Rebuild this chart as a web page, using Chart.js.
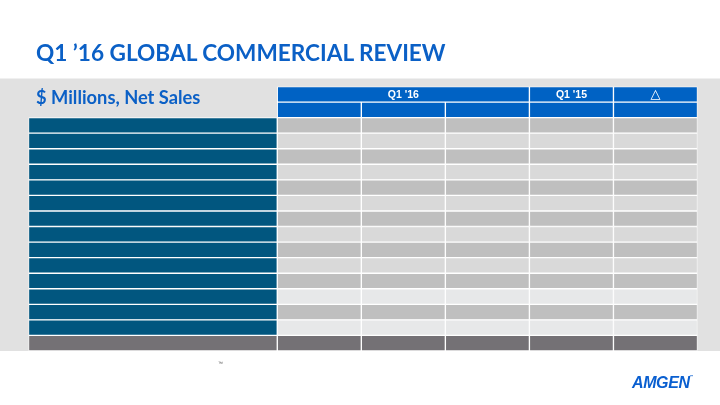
<!DOCTYPE html>
<html>
<head>
<meta charset="utf-8">
<script src="https://cdn.jsdelivr.net/npm/chart.js@4.4.1/dist/chart.umd.min.js"></script>
<style>
  html, body { margin: 0; padding: 0; background: #fff; }
  #wrap { position: relative; width: 720px; height: 405px; overflow: hidden; }
  #table { position: absolute; left: 0; top: 0; }
  .txt { position: absolute; white-space: nowrap; line-height: 1; }
  #title { left: 36px; top: 39px; font: bold 22.6px Lato, "Open Sans", sans-serif; color: #0b60c6; }
  #subtitle { left: 36px; top: 85.5px; font: bold 18.3px Lato, "Open Sans", sans-serif; color: #0b60c6; }
  #tm { left: 218px; top: 360px; font: 5px "Liberation Sans", sans-serif; color: #555; }
  #logo { left: 632px; top: 374px; font: italic bold 16px "Liberation Sans", Arial, sans-serif; color: #0a5fd0; letter-spacing: -0.4px; }
  #logo sup { font-size: 4px; font-style: normal; vertical-align: 10px; letter-spacing: 0; }
</style>
</head>
<body>
<div id="wrap">
  <canvas id="table" width="720" height="405"></canvas>
  <div class="txt" id="title">Q1 ’16 GLOBAL COMMERCIAL REVIEW</div>
  <div class="txt" id="subtitle">$ Millions, Net Sales</div>
  <div class="txt" id="tm">™</div>
  <div class="txt" id="logo">AMGEN<sup>™</sup></div>
</div>
<script>
// rows of the table, top to bottom: two header rows, 14 line items, total
const rowKeys = ['head1', 'head2',
    'r1', 'r2', 'r3', 'r4', 'r5', 'r6', 'r7', 'r8', 'r9', 'r10', 'r11', 'r12', 'r13', 'r14',
    'total'];
// shading of the body rows: 'dark', 'light', 'pale'
const rowShade = ['dark', 'light', 'dark', 'light', 'dark', 'light', 'dark', 'light',
    'dark', 'light', 'dark', 'pale', 'dark', 'pale'];
// top header groups: label and the data columns they span
const headerLabels = ['Q1 \'16', 'Q1 \'15', '\u25B3'];
const headerSpans = [[0, 3], [3, 4], [4, 5]];
// data columns (sub headers are blank in the picture)
const dataColumns = ['', '', '', '', ''];
const labelColumnWidth = 2.96;   // width of the item column, in data-column units

const colors = {
    band: '#e1e1e1',
    header: '#0062c4',
    item: '#01567f',
    total: '#747175',
    dark: '#bfbfbf',
    light: '#d9d9d9',
    pale: '#e7e8e9'
};

function bodyColor(rowIdx) {
    const key = rowKeys[rowIdx];
    if (key === 'head2') return colors.header;
    if (key === 'total') return colors.total;
    return colors[rowShade[rowIdx - 2]];
}

const cellStyle = {
    grouped: false,
    barPercentage: 1,
    categoryPercentage: 1,
    borderWidth: 1,
    borderColor: '#ffffff',
    borderSkipped: false
};

const datasets = [];

// item label column
datasets.push({
    ...cellStyle,
    label: 'items',
    data: rowKeys.map(k => k.startsWith('head') ? null : [-labelColumnWidth, 0]),
    backgroundColor: rowKeys.map(k => k === 'total' ? colors.total : colors.item)
});

// data columns
dataColumns.forEach((name, c) => {
    datasets.push({
        ...cellStyle,
        label: 'col' + c,
        data: rowKeys.map(k => k === 'head1' ? null : [c, c + 1]),
        backgroundColor: rowKeys.map((k, i) => bodyColor(i))
    });
});

// merged top header cells
headerSpans.forEach((span, h) => {
    datasets.push({
        ...cellStyle,
        label: 'header' + h,
        headerText: headerLabels[h],
        data: rowKeys.map(k => k === 'head1' ? span : null),
        backgroundColor: colors.header
    });
});

// grey band behind the table
const bandPlugin = {
    id: 'band',
    beforeDraw(chart) {
        const { ctx, chartArea } = chart;
        ctx.save();
        ctx.fillStyle = '#ffffff';
        ctx.fillRect(0, 0, chart.width, chart.height);
        ctx.fillStyle = colors.band;
        ctx.fillRect(0, chartArea.top - 8, chart.width, chartArea.bottom - chartArea.top + 8);
        ctx.restore();
    }
};

// header texts centred in their cells
const headerTextPlugin = {
    id: 'headerText',
    afterDatasetsDraw(chart) {
        const { ctx } = chart;
        ctx.save();
        ctx.fillStyle = '#ffffff';
        ctx.textAlign = 'center';
        ctx.textBaseline = 'middle';
        chart.data.datasets.forEach((ds, i) => {
            if (!ds.headerText) return;
            const bar = chart.getDatasetMeta(i).data[0];
            const isTriangle = ds.headerText === '\u25B3';
            ctx.font = isTriangle ? '13px "DejaVu Sans", sans-serif' : 'bold 10.5px "Liberation Sans", Arial, sans-serif';
            ctx.fillText(ds.headerText, (bar.x + bar.base) / 2, bar.y + 0.5);
        });
        ctx.restore();
    }
};

new Chart(document.getElementById('table'), {
    type: 'bar',
    data: { labels: rowKeys, datasets: datasets },
    options: {
        indexAxis: 'y',
        responsive: false,
        animation: false,
        events: [],
        layout: { padding: { left: 28.5, right: 22.5, top: 86.5, bottom: 54 } },
        scales: {
            x: { type: 'linear', min: -labelColumnWidth, max: dataColumns.length, display: false },
            y: { type: 'category', display: false }
        },
        plugins: {
            legend: { display: false },
            tooltip: { enabled: false },
            title: { display: false }
        }
    },
    plugins: [bandPlugin, headerTextPlugin]
});
</script>
</body>
</html>
